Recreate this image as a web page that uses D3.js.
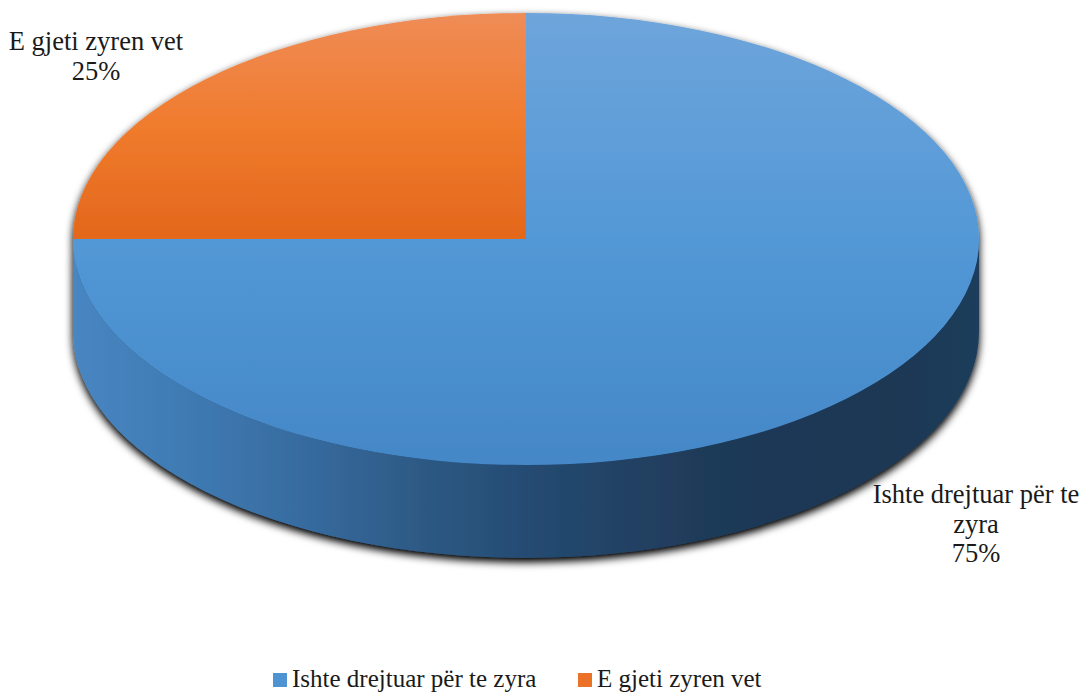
<!DOCTYPE html>
<html>
<head>
<meta charset="utf-8">
<script src="https://cdn.jsdelivr.net/npm/d3@7"></script>
<style>
  html, body { margin: 0; padding: 0; background: #ffffff; }
  svg { display: block; }
</style>
</head>
<body>
<svg id="chart" width="1086" height="693"></svg>
<script>
// Answers and their shares (%)
const categories = ["Ishte drejtuar për te zyra", "E gjeti zyren vet"];
const values = [75, 25];
const valueLabels = ["75%", "25%"];

const W = 1086, H = 693;
const cx = 526, cy = 239;       // centre of the top face
const rx = 453, ry = 226;       // ellipse radii of the top face
const depth = 93;               // thickness of the disc
const FONT = "'Liberation Serif', 'DejaVu Serif', serif";

const svg = d3.select("#chart");
const defs = svg.append("defs");

// top-face gradients (light at the back, darker toward the front)
const gBlue = defs.append("linearGradient").attr("id", "topBlue")
  .attr("gradientUnits", "userSpaceOnUse").attr("x1", 0).attr("y1", cy - ry).attr("x2", 0).attr("y2", cy + ry);
gBlue.append("stop").attr("offset", 0).attr("stop-color", "#6ea5db");
gBlue.append("stop").attr("offset", 0.5).attr("stop-color", "#5398d6");
gBlue.append("stop").attr("offset", 1).attr("stop-color", "#4487c7");

const gOrange = defs.append("linearGradient").attr("id", "topOrange")
  .attr("gradientUnits", "userSpaceOnUse").attr("x1", 0).attr("y1", cy - ry).attr("x2", 0).attr("y2", cy);
gOrange.append("stop").attr("offset", 0).attr("stop-color", "#ef8c57");
gOrange.append("stop").attr("offset", 0.5).attr("stop-color", "#f07b2d");
gOrange.append("stop").attr("offset", 1).attr("stop-color", "#e3671c");

// side wall shading: light at the left, dark at the right
const gSide = defs.append("linearGradient").attr("id", "sideBlue")
  .attr("gradientUnits", "userSpaceOnUse").attr("x1", cx - rx).attr("y1", 0).attr("x2", cx + rx).attr("y2", 0);
[[0, "#4886c2"], [0.14, "#3e79b1"], [0.25, "#376ca0"], [0.38, "#2d5a85"],
 [0.53, "#24486e"], [0.7, "#1f3a58"], [0.9, "#1d3753"], [1, "#1f3d5b"]]
  .forEach(([o, c]) => gSide.append("stop").attr("offset", o).attr("stop-color", c));

// shadow under the disc
const f = defs.append("filter").attr("id", "shadow")
  .attr("x", "-5%").attr("y", "-5%").attr("width", "110%").attr("height", "115%");
f.append("feGaussianBlur").attr("in", "SourceAlpha").attr("stdDeviation", 4).attr("result", "b");
f.append("feOffset").attr("in", "b").attr("dx", 0).attr("dy", 4).attr("result", "o");
f.append("feComponentTransfer").attr("in", "o").attr("result", "s")
  .append("feFuncA").attr("type", "linear").attr("slope", 1.1);
const fm = f.append("feMerge");
fm.append("feMergeNode").attr("in", "s");
fm.append("feMergeNode").attr("in", "SourceGraphic");

const pie = d3.pie().sort(null).value(d => d)(values);
const topFill = ["url(#topBlue)", "url(#topOrange)"];
const sideFill = ["url(#sideBlue)", "url(#sideBlue)"];

// point on the ellipse for a pie angle (0 = 12 o'clock, clockwise)
const pt = (a, dy = 0) => [cx + rx * Math.sin(a), cy - ry * Math.cos(a) + dy];

function topPath(d) {
  const [x0, y0] = pt(d.startAngle), [x1, y1] = pt(d.endAngle);
  const large = d.endAngle - d.startAngle > Math.PI ? 1 : 0;
  return `M${cx},${cy}L${x0},${y0}A${rx},${ry} 0 ${large} 1 ${x1},${y1}Z`;
}

// visible front wall: the part of the slice between 3 o'clock and 9 o'clock
function sidePath(d) {
  const a0 = Math.max(d.startAngle, Math.PI / 2);
  const a1 = Math.min(d.endAngle, 3 * Math.PI / 2);
  if (a1 <= a0) return null;
  const [x0, y0] = pt(a0), [x1, y1] = pt(a1);
  const [x2, y2] = pt(a1, depth), [x3, y3] = pt(a0, depth);
  return `M${x0},${y0}A${rx},${ry} 0 0 1 ${x1},${y1}L${x2},${y2}A${rx},${ry} 0 0 0 ${x3},${y3}Z`;
}

const disc = svg.append("g").attr("filter", "url(#shadow)");

disc.append("g").selectAll("path")
  .data(pie.filter(d => sidePath(d)))
  .join("path")
  .attr("d", sidePath)
  .attr("fill", d => sideFill[d.index]);

disc.append("g").selectAll("path")
  .data(pie)
  .join("path")
  .attr("d", topPath)
  .attr("fill", d => topFill[d.index]);

// data labels
const labelSpec = [
  { x: 976, y: 503, lines: ["Ishte drejtuar për te", "zyra", valueLabels[0]] },
  { x: 96, y: 50, lines: ["E gjeti zyren vet", valueLabels[1]] }
];
labelSpec.forEach(l => {
  const t = svg.append("text").attr("text-anchor", "middle")
    .attr("font-family", FONT).attr("font-size", 26.5).attr("fill", "#1a1a1a");
  l.lines.forEach((s, i) => t.append("tspan").attr("x", l.x).attr("y", l.y + i * 29.5).text(s));
});

// legend
const legendColors = ["#4f93d2", "#ea7125"];
const legendX = [273, 578];
const lg = svg.append("g");
categories.forEach((c, i) => {
  lg.append("rect").attr("x", legendX[i]).attr("y", 673).attr("width", 14).attr("height", 14)
    .attr("fill", legendColors[i]);
  lg.append("text").attr("x", legendX[i] + 19).attr("y", 687)
    .attr("font-family", FONT).attr("font-size", 25).attr("fill", "#1a1a1a").text(c);
});
</script>
</body>
</html>
